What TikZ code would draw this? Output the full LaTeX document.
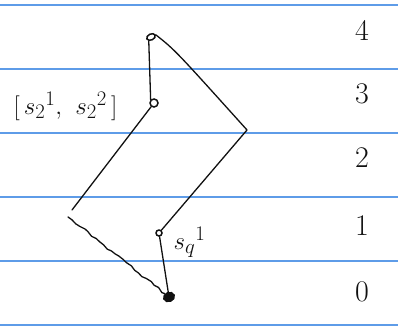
\documentclass[tikz,border=0pt]{standalone}
\usepackage{xcolor}
\usepackage{tikz}
\usetikzlibrary{decorations.pathmorphing, shapes.geometric}
\definecolor{RuleBlue}{HTML}{5E9CE8}
\definecolor{InkBlack}{HTML}{111111}
\tikzset{
  ruleline/.style={draw=RuleBlue, line width=1.1pt},
  inkline/.style={draw=InkBlack, line width=1.3pt, line cap=round, line join=round},
  wobbly/.style={inkline, decorate, decoration={random steps, segment length=5pt, amplitude=1.2pt}},
  opennode/.style={draw=InkBlack, line width=1.5pt, ellipse, inner sep=0pt,
                   minimum width=9pt, minimum height=6pt, fill=white},
  fullnode/.style={draw=InkBlack, fill=InkBlack, line width=1.4pt, ellipse, inner sep=0pt,
                   minimum width=11pt, minimum height=9pt},
  levellabel/.style={font=\fontsize{30}{32}\selectfont, text=InkBlack},
  inklabel/.style={font=\fontsize{30}{32}\selectfont, text=InkBlack, anchor=west}
}

\begin{document}
\begin{tikzpicture}[x=1pt, y=-1pt]
  \useasboundingbox (0,0) rectangle (398,326);
  \pgfmathsetseed{7}

  % ruled paper
  \foreach \y in {5,69,133,197,261,325}
    \draw[ruleline] (0,\y) -- (398,\y);

  % level numbers
  \foreach \k/\y in {4/30,3/94,2/158,1/226,0/292}
    \node[levellabel] (lvl\k) at (362,\y) {\k};

  % tree nodes
  \node[opennode, rotate=25] (top) at (151,37)  {};
  \node[opennode, minimum width=8pt, minimum height=8pt] (s2) at (154,103) {};
  \node[opennode, minimum width=6pt, minimum height=6pt] (sq) at (159,233) {};
  \node[fullnode, rotate=20] (bot) at (169,297) {};
  \coordinate (rc)  at (247,130);
  \coordinate (lc1) at (72,210);
  \coordinate (lc2) at (68,217);

  % labels
  \node[inklabel] (s2lbl) at (10,106) {$[\,s_2{}^{1},\ s_2{}^{2}\,]$};
  \node[inklabel] (sqlbl) at (170,242) {$s_q{}^{1}$};

  % edges
  \draw[inkline] (top.south west) -- (s2.north west);
  \draw[inkline] (top.east) .. controls (175,50) .. (rc);
  \draw[inkline] (rc) -- (sq);
  \draw[inkline] (sq) -- (bot);
  \draw[inkline] (s2) -- (lc1);
  \draw[wobbly]  (lc2) -- (bot);
\end{tikzpicture}
\end{document}
